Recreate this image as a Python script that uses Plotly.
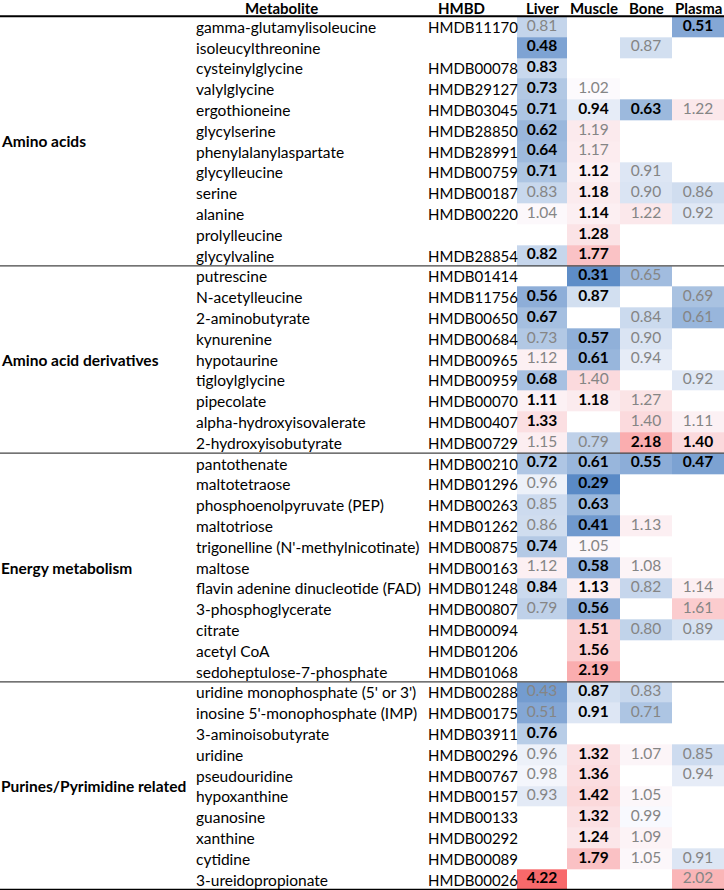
import math
import plotly.graph_objects as go

# ---------------- data ----------------
groups = ["Amino acids", "Amino acid derivatives", "Energy metabolism", "Purines/Pyrimidine related"]
group_sizes = [12, 9, 11, 10]

metabolites = [
    "gamma-glutamylisoleucine", "isoleucylthreonine", "cysteinylglycine", "valylglycine",
    "ergothioneine", "glycylserine", "phenylalanylaspartate", "glycylleucine", "serine",
    "alanine", "prolylleucine", "glycylvaline",
    "putrescine", "N-acetylleucine", "2-aminobutyrate", "kynurenine", "hypotaurine",
    "tigloylglycine", "pipecolate", "alpha-hydroxyisovalerate", "2-hydroxyisobutyrate",
    "pantothenate", "maltotetraose", "phosphoenolpyruvate (PEP)", "maltotriose",
    "trigonelline (N'-methylnicotinate)", "maltose", "flavin adenine dinucleotide (FAD)",
    "3-phosphoglycerate", "citrate", "acetyl CoA", "sedoheptulose-7-phosphate",
    "uridine monophosphate (5' or 3')", "inosine 5'-monophosphate (IMP)", "3-aminoisobutyrate",
    "uridine", "pseudouridine", "hypoxanthine", "guanosine", "xanthine", "cytidine",
    "3-ureidopropionate",
]

hmdb = [
    "HMDB11170", "", "HMDB00078", "HMDB29127", "HMDB03045", "HMDB28850", "HMDB28991",
    "HMDB00759", "HMDB00187", "HMDB00220", "", "HMDB28854",
    "HMDB01414", "HMDB11756", "HMDB00650", "HMDB00684", "HMDB00965", "HMDB00959",
    "HMDB00070", "HMDB00407", "HMDB00729",
    "HMDB00210", "HMDB01296", "HMDB00263", "HMDB01262", "HMDB00875", "HMDB00163",
    "HMDB01248", "HMDB00807", "HMDB00094", "HMDB01206", "HMDB01068",
    "HMDB00288", "HMDB00175", "HMDB03911", "HMDB00296", "HMDB00767", "HMDB00157",
    "HMDB00133", "HMDB00292", "HMDB00089", "HMDB00026",
]

tissues = ["Liver", "Muscle", "Bone", "Plasma"]
N = None

liver = [0.81, 0.48, 0.83, 0.73, 0.71, 0.62, 0.64, 0.71, 0.83, 1.04, N, 0.82,
         N, 0.56, 0.67, 0.73, 1.12, 0.68, 1.11, 1.33, 1.15,
         0.72, 0.96, 0.85, 0.86, 0.74, 1.12, 0.84, 0.79, N, N, N,
         0.43, 0.51, 0.76, 0.96, 0.98, 0.93, N, N, N, 4.22]
muscle = [N, N, N, 1.02, 0.94, 1.19, 1.17, 1.12, 1.18, 1.14, 1.28, 1.77,
          0.31, 0.87, N, 0.57, 0.61, 1.40, 1.18, N, 0.79,
          0.61, 0.29, 0.63, 0.41, 1.05, 0.58, 1.13, 0.56, 1.51, 1.56, 2.19,
          0.87, 0.91, N, 1.32, 1.36, 1.42, 1.32, 1.24, 1.79, N]
bone = [N, 0.87, N, N, 0.63, N, N, 0.91, 0.90, 1.22, N, N,
        0.65, N, 0.84, 0.90, 0.94, N, 1.27, 1.40, 2.18,
        0.55, N, N, 1.13, N, 1.08, 0.82, N, 0.80, N, N,
        0.83, 0.71, N, 1.07, N, 1.05, 0.99, 1.09, 1.05, N]
plasma = [0.51, N, N, N, 1.22, N, N, N, 0.86, 0.92, N, N,
          N, 0.69, 0.61, N, N, 0.92, N, 1.11, 1.40,
          0.47, N, N, N, N, N, 1.14, 1.61, 0.89, N, N,
          N, N, N, 0.85, 0.94, N, N, N, 0.91, 2.02]

# significance (1 = bold / significant, 0 = grey)
liver_sig = [0, 1, 1, 1, 1, 1, 1, 1, 0, 0, 0, 1,
             0, 1, 1, 0, 0, 1, 1, 1, 0,
             1, 0, 0, 0, 1, 0, 1, 0, 0, 0, 0,
             0, 0, 1, 0, 0, 0, 0, 0, 0, 1]
muscle_sig = [0, 0, 0, 0, 1, 0, 0, 1, 1, 1, 1, 1,
              1, 1, 0, 1, 1, 0, 1, 0, 0,
              1, 1, 1, 1, 0, 1, 1, 1, 1, 1, 1,
              1, 1, 0, 1, 1, 1, 1, 1, 1, 0]
bone_sig = [0, 0, 0, 0, 1, 0, 0, 0, 0, 0, 0, 0,
            0, 0, 0, 0, 0, 0, 0, 0, 1,
            1, 0, 0, 0, 0, 0, 0, 0, 0, 0, 0,
            0, 0, 0, 0, 0, 0, 0, 0, 0, 0]
plasma_sig = [1, 0, 0, 0, 0, 0, 0, 0, 0, 0, 0, 0,
              0, 0, 0, 0, 0, 0, 0, 0, 1,
              1, 0, 0, 0, 0, 0, 0, 0, 0, 0, 0,
              0, 0, 0, 0, 0, 0, 0, 0, 0, 0]

# ---------------- layout constants ----------------
W, H = 724, 890
ROW0 = 26.7          # pixel centre of first row
ROW_H = 20.8         # row height in pixels
col_edges = [517, 567, 620, 672, 724]
col_centers = [(col_edges[i] + col_edges[i + 1]) / 2 for i in range(4)]
NAME_X, ID_X, GROUP_X = 194, 426, 0
META_HDR_X, ID_HDR_X = 281, 461
FONT = "Lato"
FS = 15.5
ID_FS = 15
HDR_FS = 15
GREY = "#858585"

cols = [liver, muscle, bone, plasma]
sigs = [liver_sig, muscle_sig, bone_sig, plasma_sig]
nrows = len(metabolites)
z = [[cols[c][r] for c in range(4)] for r in range(nrows)]

allv = [v for col in cols for v in col if v is not None]
vmin, vmax = min(allv), max(allv)

# diverging colour scale: blue -> white (at 1.0) -> red (log-spaced on red side)
BLUE = (90, 138, 198)
WHITE = (252, 252, 255)
RED = (248, 105, 107)


def mix(a, b, t):
    return "rgb(%d,%d,%d)" % tuple(round(a[i] + (b[i] - a[i]) * t) for i in range(3))


def pos(v):
    return (v - vmin) / (vmax - vmin)


cscale = []
for v in [vmin, 0.4, 0.5, 0.6, 0.7, 0.8, 0.9, 0.95]:
    t = ((1 - v) / (1 - vmin)) ** 0.8
    cscale.append([pos(v), mix(WHITE, BLUE, t)])
cscale.append([pos(1.0), mix(WHITE, RED, 0)])
for v in [1.05, 1.1, 1.25, 1.5, 1.8, 2.2, 2.8, 3.5, vmax]:
    t = math.log(v) / math.log(vmax)
    cscale.append([pos(v), mix(WHITE, RED, t)])

fig = go.Figure()
fig.add_trace(go.Heatmap(
    x=col_edges, y=list(range(nrows)), z=z,
    zmin=vmin, zmax=vmax, colorscale=cscale, showscale=False,
    hoverinfo="skip", xgap=0, ygap=0,
))

# values as text
for bold in (1, 0):
    xs, ys, ts = [], [], []
    for c in range(4):
        for r in range(nrows):
            v = cols[c][r]
            if v is None or sigs[c][r] != bold:
                continue
            xs.append(col_centers[c])
            ys.append(r)
            ts.append(("<b>%.2f</b>" if bold else "%.2f") % v)
    fig.add_trace(go.Scatter(
        x=xs, y=ys, text=ts, mode="text", textposition="middle center",
        textfont=dict(family=FONT, size=FS, color="black" if bold else GREY),
        hoverinfo="skip", showlegend=False,
    ))

ann = []
for r in range(nrows):
    ann.append(dict(x=NAME_X, y=r, text=metabolites[r], xanchor="left", yanchor="middle",
                    showarrow=False, font=dict(family=FONT, size=FS, color="black")))
    if hmdb[r]:
        ann.append(dict(x=ID_X, y=r, text=hmdb[r], xanchor="left", yanchor="middle",
                        showarrow=False, font=dict(family=FONT, size=ID_FS, color="black")))

# group labels and separators
shapes = []
start = 0
for g, n in zip(groups, group_sizes):
    ann.append(dict(x=GROUP_X, y=start + (n - 1) / 2, text="<b>%s</b>" % g, xanchor="left",
                    yanchor="middle", showarrow=False, xshift=-1,
                    font=dict(family=FONT, size=FS, color="black")))
    start += n
    last = start == nrows
    shapes.append(dict(type="line", xref="x", yref="y", x0=0, x1=W, y0=start - 0.5, y1=start - 0.5,
                       line=dict(color="black" if last else "#444444", width=2.5 if last else 1.3)))

# header
top = -ROW0 / ROW_H
hdr = dict(y=top, yanchor="top", showarrow=False, yshift=2, borderpad=0,
           font=dict(family=FONT, size=HDR_FS, color="black"))
ann.append(dict(x=META_HDR_X, text="<b>Metabolite</b>", xanchor="center", **hdr))
ann.append(dict(x=ID_HDR_X, text="<b>HMBD</b>", xanchor="center", **hdr))
for c, t in enumerate(tissues):
    ann.append(dict(x=col_centers[c], text="<b>%s</b>" % t, xanchor="center", **hdr))
shapes.append(dict(type="line", xref="x", yref="y", x0=0, x1=W, y0=-0.5, y1=-0.5,
                   line=dict(color="black", width=2)))

fig.update_layout(
    width=W, height=H, margin=dict(l=0, r=0, t=0, b=0),
    paper_bgcolor="white", plot_bgcolor="white",
    xaxis=dict(range=[0, W], visible=False, fixedrange=True),
    yaxis=dict(range=[(H - ROW0) / ROW_H, top], visible=False, fixedrange=True),
    annotations=ann, shapes=shapes, showlegend=False,
)

fig.write_html(
    "out.html",
    config={"displayModeBar": False},
    post_script="document.body.style.margin='0px';document.body.style.overflow='hidden';",
)
